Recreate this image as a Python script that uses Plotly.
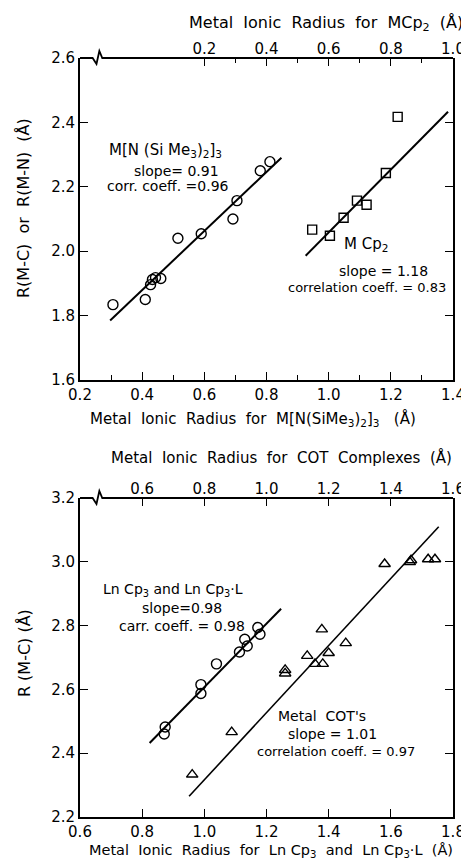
import plotly.graph_objects as go

# ---------------- data: top panel ----------------
# M[N(SiMe3)2]3 complexes (bottom axis radius, R(M-N))
amide_r = [0.306, 0.410, 0.427, 0.433, 0.443, 0.460, 0.515, 0.590, 0.692, 0.705, 0.780, 0.811]
amide_d = [1.834, 1.850, 1.896, 1.912, 1.918, 1.915, 2.040, 2.054, 2.100, 2.157, 2.250, 2.278]
amide_fit_r = [0.297, 0.848]
amide_fit_d = [1.785, 2.290]

# MCp2 complexes (top axis radius, R(M-C))
mcp2_r = [0.547, 0.604, 0.648, 0.691, 0.722, 0.784, 0.822]
mcp2_d = [2.067, 2.048, 2.104, 2.157, 2.144, 2.243, 2.417]
mcp2_fit_r = [0.526, 0.984]
mcp2_fit_d = [1.986, 2.433]

# ---------------- data: bottom panel ----------------
# LnCp3 and LnCp3.L (bottom axis radius)
lncp_r = [0.871, 0.874, 0.989, 0.989, 1.039, 1.113, 1.138, 1.130, 1.172, 1.179]
lncp_d = [2.460, 2.482, 2.587, 2.615, 2.680, 2.717, 2.736, 2.757, 2.794, 2.773]
lncp_fit_r = [0.824, 1.247]
lncp_fit_d = [2.432, 2.853]

# Metal COT's (top axis radius)
cot_r = [0.761, 0.888, 1.060, 1.060, 1.131, 1.156, 1.181, 1.200, 1.178, 1.255,
         1.380, 1.461, 1.465, 1.520, 1.542]
cot_d = [2.333, 2.466, 2.661, 2.650, 2.705, 2.680, 2.680, 2.714, 2.788, 2.745,
         2.993, 2.999, 3.005, 3.008, 3.008]
cot_fit_r = [0.751, 1.554]
cot_fit_d = [2.265, 3.110]

FONT = "DejaVu Sans"
BLACK = "black"

fig = go.Figure()

def marker(sym, size=10):
    return dict(symbol=sym, size=size, color=BLACK, line=dict(color=BLACK, width=1.4))

fig.add_trace(go.Scatter(x=amide_fit_r, y=amide_fit_d, mode="lines",
                         line=dict(color=BLACK, width=2), xaxis="x", yaxis="y"))
fig.add_trace(go.Scatter(x=amide_r, y=amide_d, mode="markers",
                         marker=marker("circle-open"), xaxis="x", yaxis="y"))
fig.add_trace(go.Scatter(x=mcp2_fit_r, y=mcp2_fit_d, mode="lines",
                         line=dict(color=BLACK, width=2), xaxis="x2", yaxis="y"))
fig.add_trace(go.Scatter(x=mcp2_r, y=mcp2_d, mode="markers",
                         marker=marker("square-open", 9), xaxis="x2", yaxis="y"))

fig.add_trace(go.Scatter(x=lncp_fit_r, y=lncp_fit_d, mode="lines",
                         line=dict(color=BLACK, width=2), xaxis="x3", yaxis="y2"))
fig.add_trace(go.Scatter(x=lncp_r, y=lncp_d, mode="markers",
                         marker=marker("circle-open"), xaxis="x3", yaxis="y2"))
fig.add_trace(go.Scatter(x=cot_fit_r, y=cot_fit_d, mode="lines",
                         line=dict(color=BLACK, width=1.6), xaxis="x4", yaxis="y2"))
fig.add_trace(go.Scatter(x=cot_r, y=cot_d, mode="markers",
                         marker=marker("triangle-up-open", 10), xaxis="x4", yaxis="y2"))

tickfont = dict(family=FONT, size=15, color=BLACK)
common = dict(ticks="inside", tickcolor=BLACK, tickwidth=1.3, ticklen=8,
              tickfont=tickfont, showgrid=False, zeroline=False,
              tickformat=".1f", fixedrange=True)

# plot area: 469 x 859 page, margins l72 r12 t50 b50 -> 385 x 759
top_dom = [0.5758, 1.0]
bot_dom = [0.0, 0.4203]

fig.update_layout(
    width=469, height=859,
    margin=dict(l=72, r=12, t=50, b=50),
    paper_bgcolor="white", plot_bgcolor="white",
    showlegend=False,
    font=dict(family=FONT, color=BLACK),
    xaxis=dict(**common, domain=[0, 1], anchor="y", range=[0.2, 1.4],
               tickvals=[0.2, 0.4, 0.6, 0.8, 1.0, 1.2, 1.4],
               minor=dict(tickvals=[0.3, 0.5, 0.7, 0.9, 1.1, 1.3], ticks="inside",
                          ticklen=5, tickcolor=BLACK, tickwidth=1.2),
               showline=True, linecolor=BLACK, linewidth=1.8),
    xaxis2=dict(**common, overlaying="x", side="top", anchor="y", range=[-0.2, 1.0],
                tickvals=[0.2, 0.4, 0.6, 0.8, 1.0],
                minor=dict(tickvals=[0.3, 0.5, 0.7, 0.9], ticks="inside",
                           ticklen=5, tickcolor=BLACK, tickwidth=1.2),
                showline=False),
    yaxis=dict(**common, domain=top_dom, anchor="x", range=[1.6, 2.6],
               tickvals=[1.6, 1.8, 2.0, 2.2, 2.4, 2.6],
               showline=True, linecolor=BLACK, linewidth=1.8, mirror="ticks"),
    xaxis3=dict(**common, domain=[0, 1], anchor="y2", range=[0.6, 1.8],
                tickvals=[0.6, 0.8, 1.0, 1.2, 1.4, 1.6, 1.8],
                showline=True, linecolor=BLACK, linewidth=1.8),
    xaxis4=dict(**common, overlaying="x3", side="top", anchor="y2", range=[0.4, 1.6],
                tickvals=[0.6, 0.8, 1.0, 1.2, 1.4, 1.6], showline=False),
    yaxis2=dict(**common, domain=bot_dom, anchor="x3", range=[2.2, 3.2],
                tickvals=[2.2, 2.4, 2.6, 2.8, 3.0, 3.2],
                showline=True, linecolor=BLACK, linewidth=1.8, mirror="ticks"),
)

# top axis lines with break symbol
def break_line(y0, dy_dn, dy_up):
    xs = [0, 0.0338, 0.0442, 0.0519, 0.0597, 1.0]
    ys = [y0, y0, y0 - dy_dn, y0 + dy_up, y0, y0]
    path = "M " + " L ".join(f"{a},{b}" for a, b in zip(xs, ys))
    return dict(type="path", xref="paper", yref="paper", path=path,
                line=dict(color=BLACK, width=1.8), layer="above")

fig.add_shape(**break_line(1.0, 0.0079, 0.0092))
fig.add_shape(**break_line(0.4203, 0.0079, 0.0092))

def ann(text, x, y, xref, yref, size=13, angle=0):
    fig.add_annotation(text=text, x=x, y=y, xref=xref, yref=yref, showarrow=False,
                       font=dict(family=FONT, size=size, color=BLACK),
                       textangle=angle, xanchor="center", yanchor="middle")

# axis titles
ann("Metal  Ionic  Radius  for  MCp<sub>2</sub>  (Å)", 0.66, 1.0448, "paper", "paper", 16)
ann("Metal  Ionic  Radius  for  M[N(SiMe<sub>3</sub>)<sub>2</sub>]<sub>3</sub>   (Å)",
    0.465, 0.5244, "paper", "paper", 15)
ann("Metal  Ionic  Radius  for  COT  Complexes  (Å)", 0.54, 0.473, "paper", "paper", 15)
ann("Metal  Ionic  Radius  for  Ln Cp<sub>3</sub>  and  Ln Cp<sub>3</sub>·L  (Å)",
    0.512, -0.0448, "paper", "paper", 14.5)
ann("R(M-C)  or  R(M-N)  (Å)", -0.15, 0.8024, "paper", "paper", 16, -90)
ann("R (M-C) (Å)", -0.15, 0.216, "paper", "paper", 16, -90)

# in-plot labels
ann("M[N (Si Me<sub>3</sub>)<sub>2</sub>]<sub>3</sub>", 0.474, 2.312, "x", "y", 15)
ann("slope= 0.91", 0.512, 2.250, "x", "y", 14)
ann("corr. coeff. =0.96", 0.483, 2.203, "x", "y", 14)
ann("M Cp<sub>2</sub>", 1.119, 2.020, "x", "y", 15)
ann("slope = 1.18", 1.175, 1.940, "x", "y", 14)
ann("correlation coeff. = 0.83", 1.122, 1.887, "x", "y", 13)

ann("Ln Cp<sub>3</sub> and Ln Cp<sub>3</sub>·L", 0.899, 2.912, "x3", "y2", 14)
ann("slope=0.98", 0.927, 2.856, "x3", "y2", 14)
ann("carr. coeff. = 0.98", 0.927, 2.798, "x3", "y2", 14)
ann("Metal  COT's", 1.378, 2.516, "x3", "y2", 14)
ann("slope = 1.01", 1.412, 2.460, "x3", "y2", 14)
ann("correlation coeff. = 0.97", 1.424, 2.404, "x3", "y2", 13)

fig.write_html("out.html")
